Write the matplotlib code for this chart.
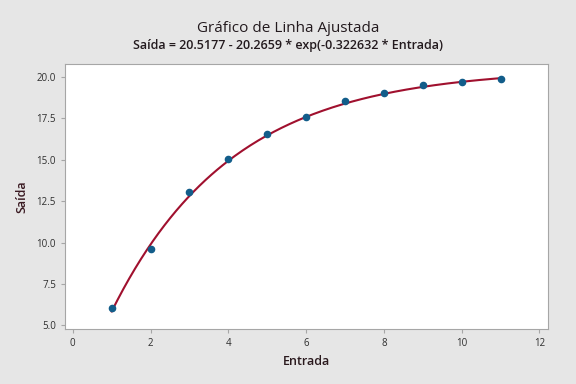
import matplotlib.pyplot as plt
import numpy as np

# dados
entrada = [1, 2, 3, 4, 5, 6, 7, 8, 9, 10, 11]
saida = [6.05, 9.6, 13.07, 15.07, 16.55, 17.56, 18.53, 19.02, 19.54, 19.72, 19.86]

# coeficientes do ajuste (do subtítulo)
a, b, c = 20.5177, 20.2659, -0.322632

x_ticks = [0, 2, 4, 6, 8, 10, 12]
y_ticks = [5.0, 7.5, 10.0, 12.5, 15.0, 17.5, 20.0]

plt.rcParams['font.family'] = ['Open Sans', 'DejaVu Sans']

fig = plt.figure(figsize=(5.76, 3.84), dpi=100, facecolor='#e6e6e6')
ax = fig.add_axes([65 / 576, 1 - 329 / 384, (548 - 65) / 576, (329 - 64) / 384])
ax.set_facecolor('white')

# curva ajustada
xs = np.linspace(min(entrada), max(entrada), 200)
ax.plot(xs, a - b * np.exp(c * xs), color='#a0102e', linewidth=1.5, zorder=2)
ax.scatter(entrada, saida, color='#125d8a', s=20, zorder=3)

ax.set_xlim(-0.2, 12.22)
ax.set_ylim(4.78, 20.79)
ax.set_xticks(x_ticks)
ax.set_yticks(y_ticks)
ax.set_xticklabels([str(t) for t in x_ticks])
ax.set_yticklabels(['{:.1f}'.format(t) for t in y_ticks])

for s in ax.spines.values():
    s.set_color('#a6a6a6')
ax.tick_params(colors='#a6a6a6', labelcolor='#2e2e2e', labelsize=7, length=3)

ax.set_xlabel('Entrada', fontsize=9, color='#2b1a1e', labelpad=4, fontweight='semibold')
ax.set_ylabel('Saída', fontsize=9, color='#3a1a22', labelpad=6, fontweight='semibold')

fig.text(0.5, 1 - 28 / 384, 'Gráfico de Linha Ajustada', ha='center', va='center',
         fontsize=11, color='#231a1e')
fig.text(0.5, 1 - 46 / 384, 'Saída = 20.5177 - 20.2659 * exp(-0.322632 * Entrada)',
         ha='center', va='center', fontsize=9, color='#231a1e', fontweight='semibold')

plt.savefig('out.png', dpi=100, facecolor=fig.get_facecolor())
